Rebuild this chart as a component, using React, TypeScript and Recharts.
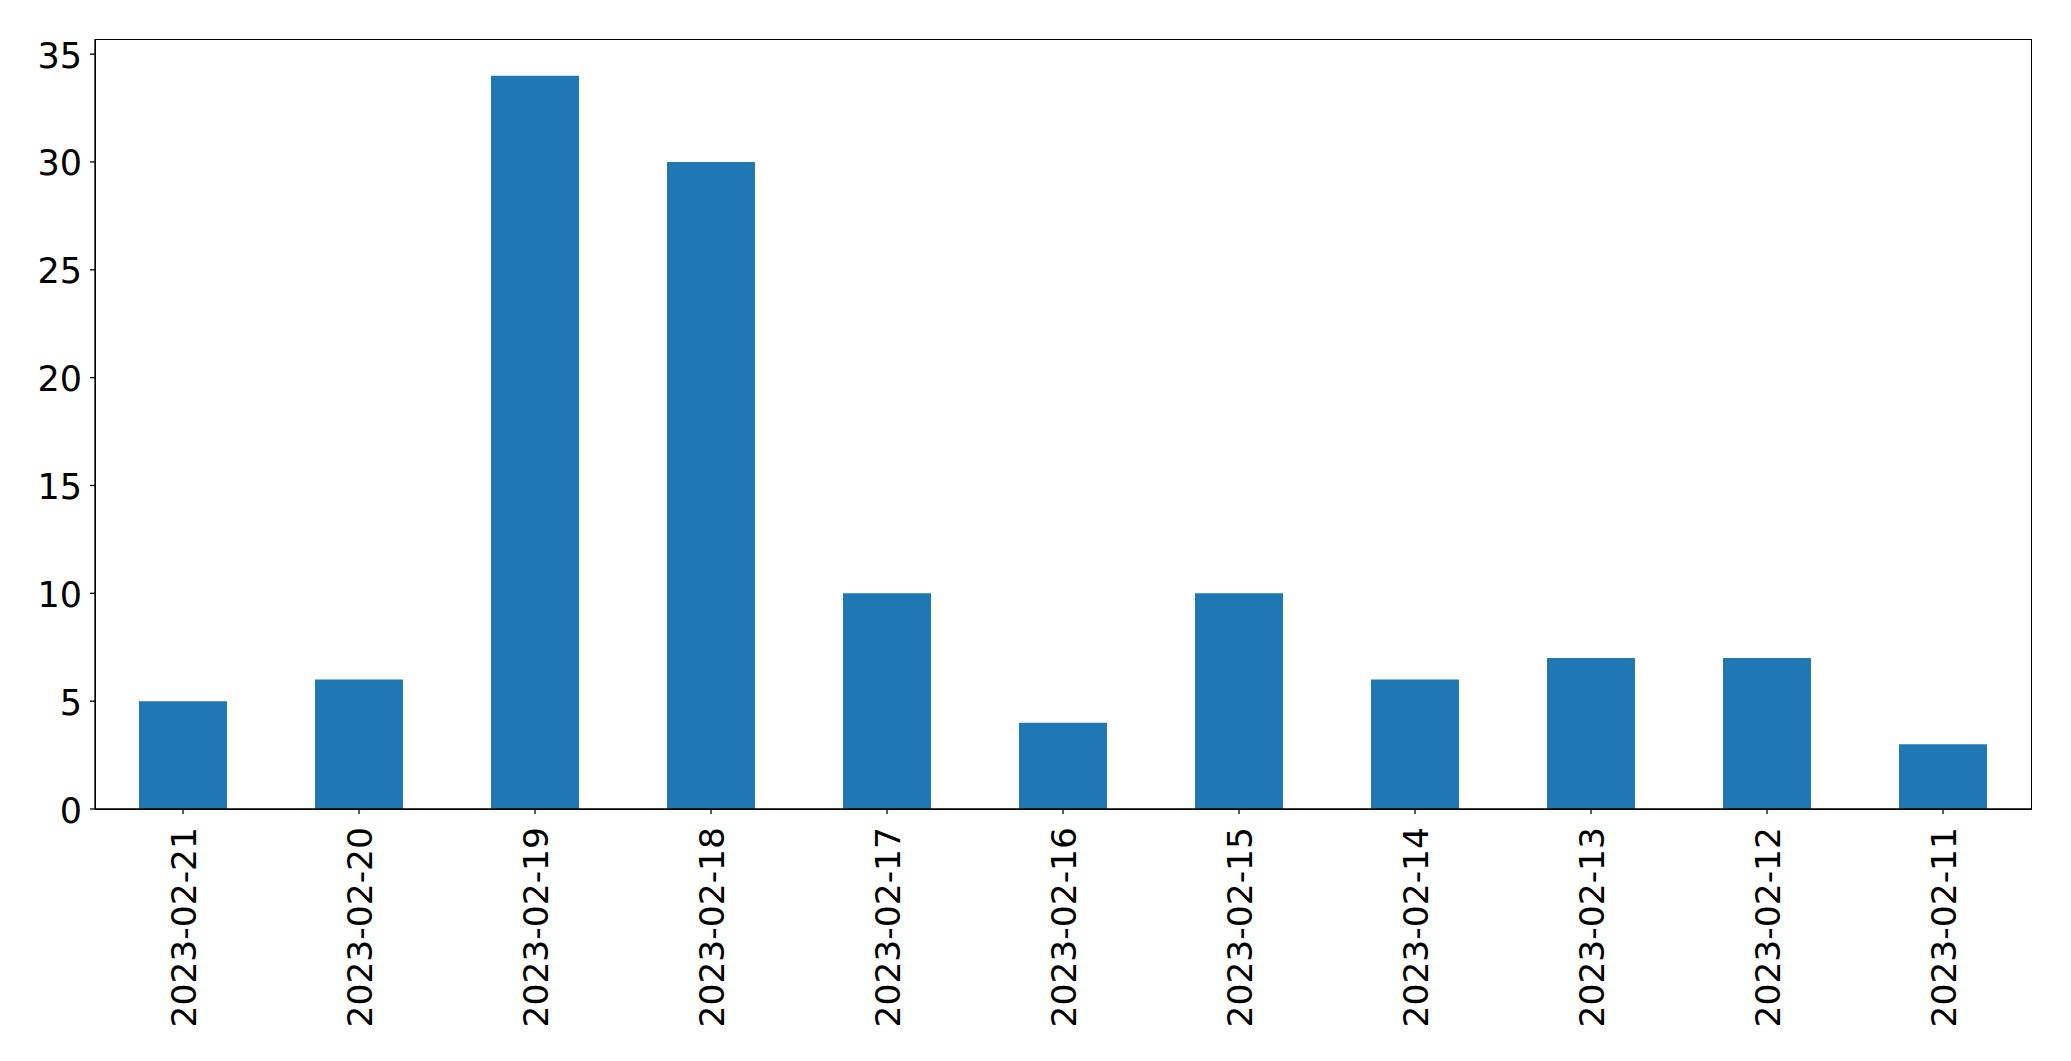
import { Bar, BarChart, XAxis, YAxis } from "recharts";

const dates = [
  "2023-02-21",
  "2023-02-20",
  "2023-02-19",
  "2023-02-18",
  "2023-02-17",
  "2023-02-16",
  "2023-02-15",
  "2023-02-14",
  "2023-02-13",
  "2023-02-12",
  "2023-02-11",
];
const counts = [5, 6, 34, 30, 10, 4, 10, 6, 7, 7, 3];
const yTicks = [0, 5, 10, 15, 20, 25, 30, 35];

const data = dates.map((d, i) => ({ date: d, count: counts[i] }));

const FONT = "DejaVu Sans";

function DateTick({ x, y, payload }: any) {
  return (
    <text
      x={x + 12.5}
      y={y}
      transform={`rotate(-90, ${x + 12.5}, ${y})`}
      textAnchor="end"
      fontSize={34.5}
      fontFamily={FONT}
      fill="#000"
    >
      {payload.value}
    </text>
  );
}

function CountTick({ x, y, payload }: any) {
  return (
    <text x={x} y={y + 13.5} textAnchor="end" fontSize={35} fontFamily={FONT} fill="#000">
      {payload.value}
    </text>
  );
}

export default function App() {
  return (
    <div style={{ position: "absolute", left: 0, top: 0, background: "#fff" }}>
      <BarChart
        width={2071}
        height={1061}
        data={data}
        margin={{ top: 39, right: 40, bottom: 0, left: 0 }}
        barCategoryGap="25%"
      >
        <XAxis
          dataKey="date"
          height={252}
          interval={0}
          tick={<DateTick />}
          tickSize={5}
          tickMargin={13}
          axisLine={{ stroke: "#000", strokeWidth: 1.3 }}
          tickLine={{ stroke: "#000", strokeWidth: 1.3 }}
        />
        <YAxis
          width={95}
          domain={[0, 35.7]}
          ticks={yTicks}
          interval={0}
          tickSize={5}
          tickMargin={8}
          tick={<CountTick />}
          axisLine={{ stroke: "#000", strokeWidth: 1.3 }}
          tickLine={{ stroke: "#000", strokeWidth: 1.3 }}
        />
        <Bar dataKey="count" fill="#1f77b4" isAnimationActive={false} />
      </BarChart>
      <div
        style={{
          position: "absolute",
          left: 95,
          top: 39,
          width: 1937,
          height: 771,
          border: "1.3px solid #000",
          boxSizing: "border-box",
          pointerEvents: "none",
        }}
      />
    </div>
  );
}
